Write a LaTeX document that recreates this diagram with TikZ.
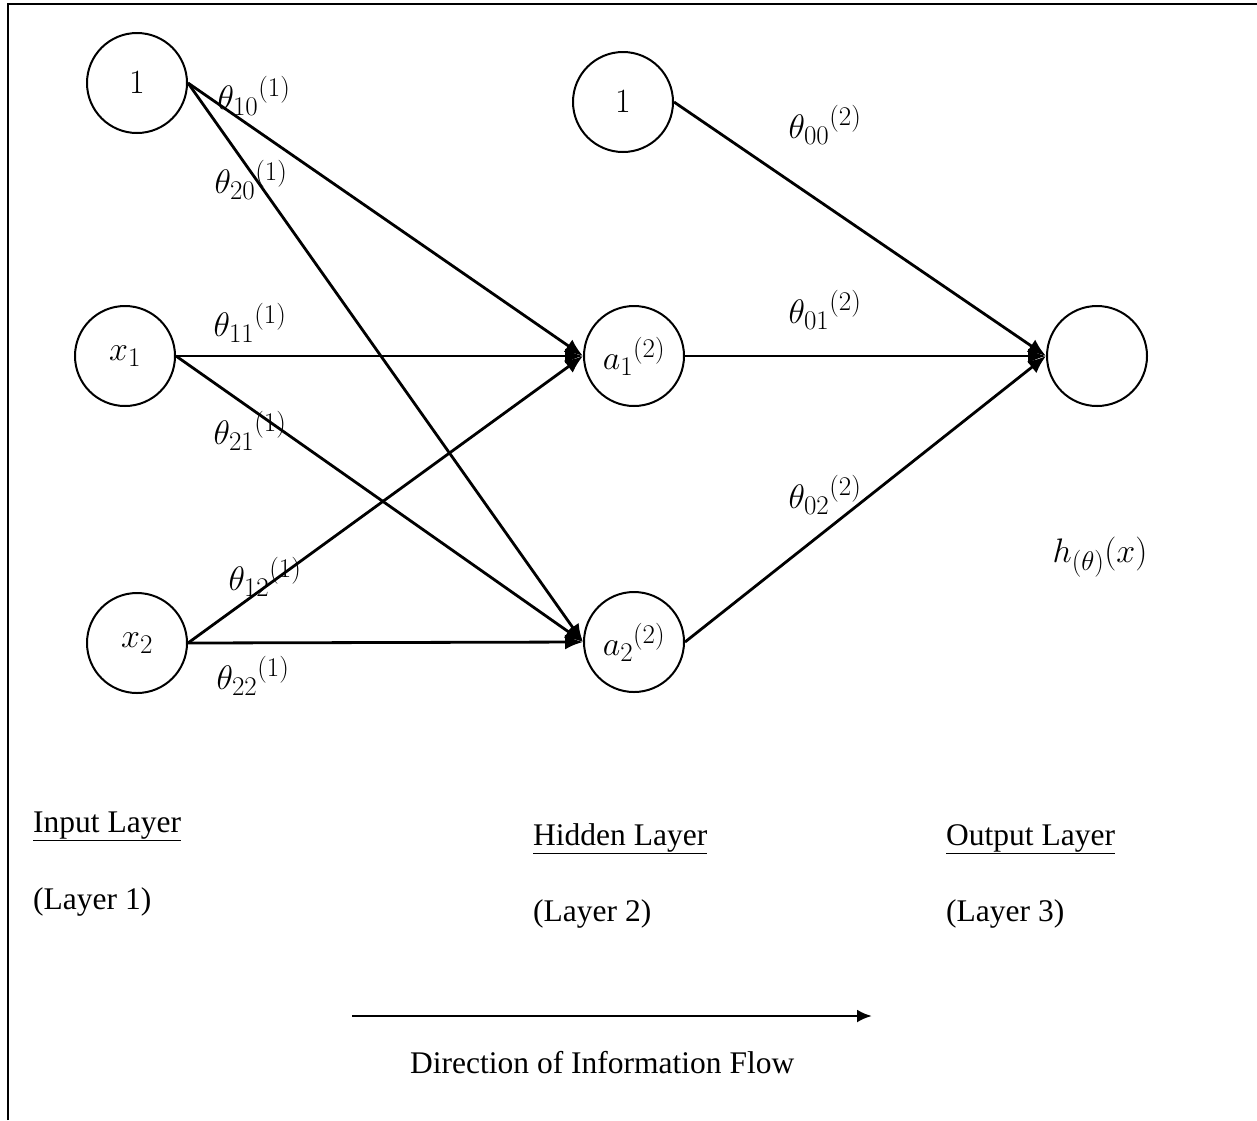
\RequirePackage{fix-cm}
\documentclass[tikz,border=0pt]{standalone}
\usepackage{fontspec}
\setmainfont{Liberation Serif}
\DeclareMathSizes{34}{34}{27}{20}
\usetikzlibrary{arrows.meta}
\begin{document}
\begin{tikzpicture}[x=1pt,y=-1pt,
  neuron/.style={circle,draw,line width=2pt,minimum size=100pt,inner sep=0pt,font=\fontsize{34}{40}\selectfont},
  conn/.style={line width=2.8pt,-{Latex[length=18pt,width=15pt]}},
  wlab/.style={font=\fontsize{34}{40}\selectfont,inner sep=0pt},
  txt/.style={font=\fontsize{31.5}{36}\selectfont,inner sep=0pt,anchor=base west},
  frame/.style={line width=2pt}]
\useasboundingbox (0,0) rectangle (1257,1120);
% frame
\coordinate (fb) at (8,1120);
\coordinate (ftl) at (8,4);
\coordinate (ftr) at (1257,4);
\draw[frame] (fb) -- (ftl) -- (ftr);
% neurons
\node[neuron] (i0) at (137,83) {$1$};
\node[neuron] (x1) at (125,356) {$x_1$};
\node[neuron] (x2) at (137,643) {$x_2$};
\node[neuron] (h0) at (623,102) {$1$};
\node[neuron] (a1) at (634,356) {${a_1}^{(2)}$};
\node[neuron] (a2) at (634,642) {${a_2}^{(2)}$};
\node[neuron] (o) at (1097,356) {};
% connections
\draw[conn] (i0.east) -- (a1.west);
\draw[conn] (i0.east) -- (a2.west);
\draw[conn] (x1.east) -- (a1.west);
\draw[conn] (x1.east) -- (a2.west);
\draw[conn] (x2.east) -- (a1.west);
\draw[conn] (x2.east) -- (a2.west);
\draw[conn] (h0.east) -- (o.west);
\draw[conn] (a1.east) -- (o.west);
\draw[conn] (a2.east) -- (o.west);
% weight labels
\node[wlab] (w10) at (254,96) {${\theta_{10}}^{(1)}$};
\node[wlab] (w20) at (251,180) {${\theta_{20}}^{(1)}$};
\node[wlab] (w11) at (250,323) {${\theta_{11}}^{(1)}$};
\node[wlab] (w21) at (250,431) {${\theta_{21}}^{(1)}$};
\node[wlab] (w12) at (265,577) {${\theta_{12}}^{(1)}$};
\node[wlab] (w22) at (253,676) {${\theta_{22}}^{(1)}$};
\node[wlab] (v00) at (825,125) {${\theta_{00}}^{(2)}$};
\node[wlab] (v01) at (825,310) {${\theta_{01}}^{(2)}$};
\node[wlab] (v02) at (825,495) {${\theta_{02}}^{(2)}$};
\node[wlab] (hx) at (1100,557) {$h_{(\theta)}(x)$};
% layer labels
\node[txt] (l1) at (33,832) {\underline{Input Layer}};
\node[txt] (l1b) at (33,909) {(Layer 1)};
\node[txt] (l2) at (533,845) {\underline{Hidden Layer}};
\node[txt] (l2b) at (533,921) {(Layer 2)};
\node[txt] (l3) at (946,845) {\underline{Output Layer}};
\node[txt] (l3b) at (946,921) {(Layer 3)};
% flow arrow
\coordinate (fs) at (352,1016);
\coordinate (fe) at (872,1016);
\draw[line width=2.8pt,-{Latex[length=15pt,width=13pt]}] (fs) -- (fe);
\node[txt] (dir) at (410,1073) {Direction of Information Flow};
\end{tikzpicture}
\end{document}
